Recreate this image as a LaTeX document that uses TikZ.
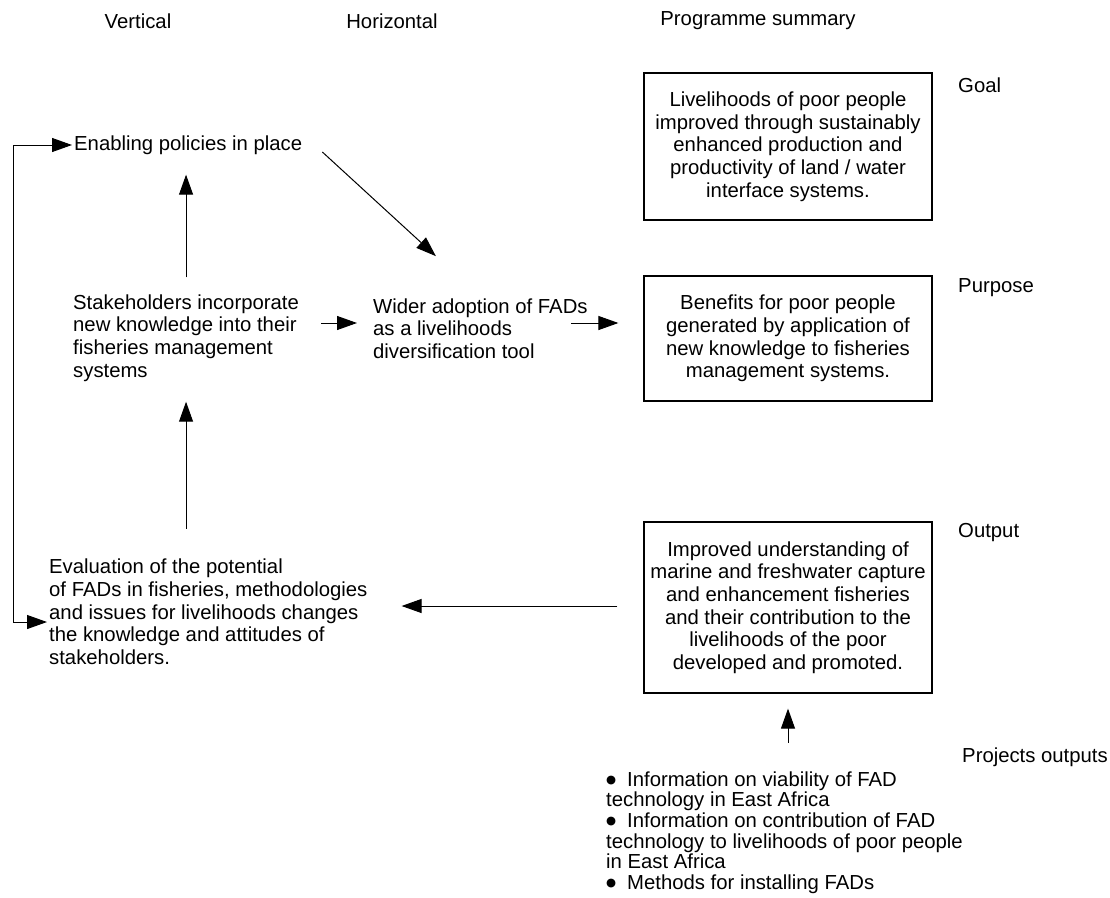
\documentclass[tikz,border=0pt]{standalone}
\usepackage{fontspec}
\setmainfont{Liberation Sans}
\newfontfamily\dejavufam{DejaVu Sans}
\usetikzlibrary{arrows.meta}
\newcommand{\bulletmark}{\makebox[21pt][l]{\raisebox{2.5pt}{\dejavufam\fontsize{11.5}{11.5}\selectfont ●}}}
\begin{document}
\begin{tikzpicture}[x=1pt,y=-1pt,
  txt/.style={inner sep=0pt,font=\fontsize{20.3}{22.7}\selectfont},
  lefttxt/.style={txt,anchor=west,align=left},
  box/.style={txt,draw,line width=1.2pt,minimum width=288pt,align=center},
  arr/.style={line width=1pt,-{Triangle[length=20pt,width=14pt]}},
  arrtwo/.style={line width=1pt,{Triangle[length=20pt,width=14pt]}-{Triangle[length=20pt,width=14pt]}}]
\useasboundingbox (0,0) rectangle (1110,897);
\fill[white] (0,0) rectangle (1110,897);
% headers
\node[txt] (hv) at (138,21) {Vertical};
\node[txt] (hh) at (392,21) {Horizontal};
\node[txt] (hp) at (758,21) {Programme summary};
% side labels
\node[txt,anchor=west] (lgoal) at (958,85) {Goal};
\node[txt,anchor=west] (lpurp) at (958,288) {Purpose};
\node[txt,anchor=west] (lout) at (958,533) {Output};
\node[txt,anchor=west] (lproj) at (962,757) {Projects outputs};
% boxes
\node[box,minimum height=147pt] (goal) at (788,146.5) {Livelihoods of poor people\\improved through sustainably\\enhanced production and\\productivity of land / water\\interface systems.};
\node[box,minimum height=125pt] (purpose) at (788,338.5) {Benefits for poor people\\generated by application of\\new knowledge to fisheries\\management systems.};
\node[box,minimum height=171pt] (output) at (788,607.5) {Improved understanding of\\marine and freshwater capture\\and enhancement fisheries\\and their contribution to the\\livelihoods of the poor\\developed and promoted.};
% left texts
\node[lefttxt] (enab) at (74,145) {Enabling policies in place};
\node[lefttxt] (stake) at (73,338) {Stakeholders incorporate\\new knowledge into their\\fisheries management\\systems};
\node[lefttxt] (wider) at (373,328.5) {Wider adoption of FADs\\as a livelihoods\\diversification tool};
\node[lefttxt] (eval) at (49,612) {Evaluation of the potential\\of FADs in fisheries, methodologies\\and issues for livelihoods changes\\the knowledge and attitudes of\\stakeholders.};
\node[txt,anchor=west,align=left,font=\fontsize{20.3}{20.6}\selectfont] (proj) at (606,832.5) {\bulletmark Information on viability of FAD\\technology in East Africa\\\bulletmark Information on contribution of FAD\\technology to livelihoods of poor people\\in East Africa\\\bulletmark Methods for installing FADs};
% connectors
\draw[arr,shorten <=17pt,shorten >=20pt] (stake.north) -- (stake.north |- enab.south);
\draw[arr,shorten <=30pt,shorten >=20pt] (stake.south |- eval.north) -- (stake.south);
\draw[arr] ([shift={(22,-15)}]stake.east) -- ([shift={(-16,-5.5)}]wider.west);
\draw[arr] ([shift={(-72,-15.5)}]purpose.west) -- ([shift={(-25,-15.5)}]purpose.west);
\draw[arr] ([shift={(20,7)}]enab.east) -- ([shift={(-44.5,-42)}]wider.north);
\draw[arr] ([shift={(-26,-1.5)}]output.west) -- ([shift={(34,-6)}]eval.east);
\draw[arr] ([shift={(0,49)}]output.south) -- ([shift={(0,15)}]output.south);
\draw[arrtwo] ([shift={(-2,0)}]enab.west) -- ++(-59,0) |- ([shift={(-2,10)}]eval.west);
\end{tikzpicture}
\end{document}
